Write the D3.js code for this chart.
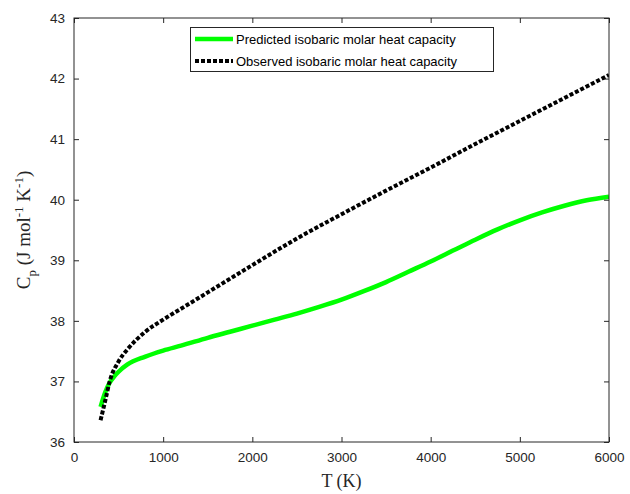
<!DOCTYPE html>
<html>
<head>
<meta charset="utf-8">
<script src="https://cdn.jsdelivr.net/npm/d3@7"></script>
<style>
  html, body { margin: 0; padding: 0; background: #fff; }
  svg { display: block; }
</style>
</head>
<body>
<svg id="chart" width="630" height="494"></svg>
<script>
// Temperatures (K) and isobaric molar heat capacities (J mol^-1 K^-1)
const observedT  = [298, 350, 400, 500, 600, 800, 1000, 1200, 1500, 2000, 2500, 3000, 3500, 4000, 4500, 5000, 5500, 6000];
const observedCp = [36.36, 36.68, 37.00, 37.33, 37.53, 37.82, 38.02, 38.20, 38.47, 38.92, 39.36, 39.76, 40.15, 40.53, 40.92, 41.30, 41.68, 42.06];

const predictedT  = [298, 350, 400, 450, 500, 600, 800, 1000, 1200, 1500, 1750, 2000, 2250, 2500, 2750, 3000, 3250, 3500, 3750, 4000, 4250, 4500, 4750, 5000, 5250, 5500, 5750, 6000];
const predictedCp = [36.58, 36.82, 36.98, 37.08, 37.16, 37.28, 37.41, 37.51, 37.59, 37.72, 37.82, 37.92, 38.02, 38.12, 38.23, 38.35, 38.49, 38.64, 38.81, 38.98, 39.16, 39.34, 39.51, 39.66, 39.79, 39.90, 39.99, 40.05];

const xTicks = [0, 1000, 2000, 3000, 4000, 5000, 6000];
const yTicks = [36, 37, 38, 39, 40, 41, 42, 43];

const legendLabels = ["Predicted isobaric molar heat capacity", "Observed isobaric molar heat capacity"];

(function draw() {
  const svg = d3.select("#chart");
  const box = { left: 74, right: 609, top: 18, bottom: 442 };
  const axisColor = "#262626";
  const sans = "'Liberation Sans', Arial, sans-serif";
  const serif = "'Liberation Serif', 'Times New Roman', serif";
  const dotted = "4,2";

  const x = d3.scaleLinear().domain([0, 6000]).range([box.left, box.right]);
  const y = d3.scaleLinear().domain([36, 43]).range([box.bottom, box.top]);

  const line = d3.line()
    .x(d => x(d[0]))
    .y(d => y(d[1]))
    .curve(d3.curveMonotoneX);

  const predicted = predictedT.map((t, i) => [t, predictedCp[i]]);
  const observed = observedT.map((t, i) => [t, observedCp[i]]);

  // Clip the curves to the axes box
  svg.append("defs").append("clipPath").attr("id", "plotClip")
    .append("rect").attr("x", box.left).attr("y", box.top)
    .attr("width", box.right - box.left).attr("height", box.bottom - box.top);

  const plot = svg.append("g").attr("clip-path", "url(#plotClip)");

  plot.append("path")
    .datum(predicted)
    .attr("d", line)
    .attr("fill", "none")
    .attr("stroke", "#00ff00")
    .attr("stroke-width", 4.5);

  plot.append("path")
    .datum(observed)
    .attr("d", line)
    .attr("fill", "none")
    .attr("stroke", "#000")
    .attr("stroke-width", 4)
    .attr("stroke-dasharray", dotted);

  // Axes with inward ticks on all four sides
  function styleAxis(g) {
    g.select(".domain").remove();
    g.selectAll(".tick line").attr("stroke", axisColor).attr("stroke-width", 1);
    g.selectAll(".tick text")
      .attr("fill", axisColor)
      .attr("font-family", sans)
      .attr("font-size", 13.5);
  }

  svg.append("g")
    .attr("transform", `translate(0,${box.bottom})`)
    .call(d3.axisBottom(x).tickValues(xTicks).tickFormat(d3.format("d")).tickSizeInner(-5).tickSizeOuter(0).tickPadding(10))
    .call(styleAxis);

  svg.append("g")
    .attr("transform", `translate(0,${box.top})`)
    .call(d3.axisTop(x).tickValues(xTicks).tickFormat("").tickSizeInner(-5).tickSizeOuter(0))
    .call(styleAxis);

  svg.append("g")
    .attr("transform", `translate(${box.left},0)`)
    .call(d3.axisLeft(y).tickValues(yTicks).tickFormat(d3.format("d")).tickSizeInner(-5).tickSizeOuter(0).tickPadding(9))
    .call(styleAxis);

  svg.append("g")
    .attr("transform", `translate(${box.right},0)`)
    .call(d3.axisRight(y).tickValues(yTicks).tickFormat("").tickSizeInner(-5).tickSizeOuter(0))
    .call(styleAxis);

  svg.append("rect")
    .attr("x", box.left).attr("y", box.top)
    .attr("width", box.right - box.left).attr("height", box.bottom - box.top)
    .attr("fill", "none")
    .attr("stroke", axisColor)
    .attr("stroke-width", 1);

  // Axis labels
  svg.append("text")
    .attr("x", (box.left + box.right) / 2)
    .attr("y", 487)
    .attr("text-anchor", "middle")
    .attr("font-family", serif)
    .attr("font-size", 18)
    .attr("fill", axisColor)
    .text("T (K)");

  const yLabel = svg.append("text")
    .attr("transform", `translate(30,${(box.top + box.bottom) / 2}) rotate(-90)`)
    .attr("text-anchor", "middle")
    .attr("font-family", serif)
    .attr("font-size", 19)
    .attr("fill", axisColor);
  yLabel.append("tspan").text("C");
  yLabel.append("tspan").attr("font-size", 13).attr("dy", 6).text("p");
  yLabel.append("tspan").attr("dy", -6).text(" (J mol");
  yLabel.append("tspan").attr("font-size", 13).attr("dy", -7).text("-1");
  yLabel.append("tspan").attr("dy", 7).text(" K");
  yLabel.append("tspan").attr("font-size", 13).attr("dy", -7).text("-1");
  yLabel.append("tspan").attr("dy", 7).text(")");

  // Legend
  const legend = svg.append("g");
  legend.append("rect")
    .attr("x", 190.5).attr("y", 27.5)
    .attr("width", 303).attr("height", 44)
    .attr("fill", "#fff")
    .attr("stroke", axisColor)
    .attr("stroke-width", 1);

  const legendStyles = [
    { stroke: "#00ff00", width: 4.5, dash: null },
    { stroke: "#000", width: 4, dash: dotted }
  ];

  legendLabels.forEach((label, i) => {
    const cy = 39 + i * 22;
    legend.append("line")
      .attr("x1", 195).attr("x2", 233)
      .attr("y1", cy).attr("y2", cy)
      .attr("stroke", legendStyles[i].stroke)
      .attr("stroke-width", legendStyles[i].width)
      .attr("stroke-dasharray", legendStyles[i].dash);
    legend.append("text")
      .attr("x", 236)
      .attr("y", cy + 4.5)
      .attr("font-family", sans)
      .attr("font-size", 13)
      .attr("fill", "#000")
      .text(label);
  });
})();
</script>
</body>
</html>
